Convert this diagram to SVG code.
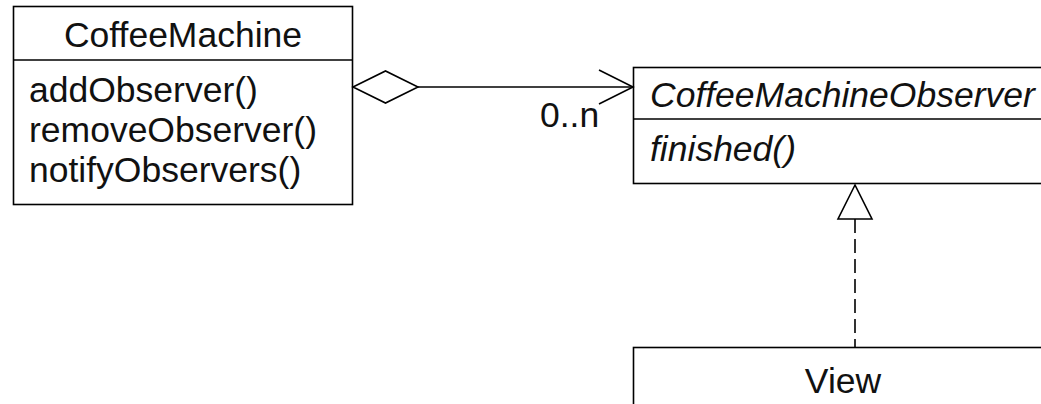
<svg xmlns="http://www.w3.org/2000/svg" width="1041" height="404" viewBox="0 0 1041 404">
  <style>
    .box { fill: #ffffff; stroke: #000000; stroke-width: 1.6; }
    .sep { stroke: #000000; stroke-width: 1.6; }
    .txt { font-family: "Liberation Sans", Arial, sans-serif; font-size: 35.5px; fill: #111111; }
    .mid { text-anchor: middle; }
    .abs { font-style: italic; }
    .edge { fill: none; stroke: #000000; stroke-width: 1.6; }
    .head { fill: #ffffff; stroke: #000000; stroke-width: 1.6; }
  </style>
  <rect width="1041" height="404" fill="#ffffff"/>

  <!-- CoffeeMachine class -->
  <g id="coffee-machine">
    <rect class="box" x="13.5" y="6.5" width="339" height="198"/>
    <line class="sep" x1="13.5" y1="60" x2="352.5" y2="60"/>
    <text class="txt mid" x="183" y="47">CoffeeMachine</text>
    <text class="txt" x="29" y="102">addObserver()</text>
    <text class="txt" x="29" y="142">removeObserver()</text>
    <text class="txt" x="29" y="182">notifyObservers()</text>
  </g>

  <!-- CoffeeMachineObserver interface -->
  <g id="coffee-machine-observer">
    <rect class="box" x="633.5" y="67.5" width="420" height="116"/>
    <line class="sep" x1="633.5" y1="119" x2="1053.5" y2="119"/>
    <text class="txt abs" x="650" y="107">CoffeeMachineObserver</text>
    <text class="txt abs" x="650" y="161">finished()</text>
  </g>

  <!-- View class -->
  <g id="view">
    <rect class="box" x="633.5" y="347.5" width="420" height="80"/>
    <text class="txt mid" x="843" y="393">View</text>
  </g>

  <!-- Connectors -->
  <g id="connectors">
    <!-- aggregation: CoffeeMachine holds 0..n observers -->
    <line class="edge" x1="418" y1="87" x2="633" y2="87"/>
    <polygon class="head" points="353,87 385.5,71 418,87 385.5,103"/>
    <polyline class="edge" points="599,70 633,87 599,104"/>
    <text class="txt" x="540" y="127">0..n</text>

    <!-- realization: View implements CoffeeMachineObserver -->
    <line class="edge" x1="855" y1="219" x2="855" y2="347" stroke-dasharray="14 6"/>
    <polygon class="head" points="855,185 838,219 872,219"/>
  </g>
</svg>
